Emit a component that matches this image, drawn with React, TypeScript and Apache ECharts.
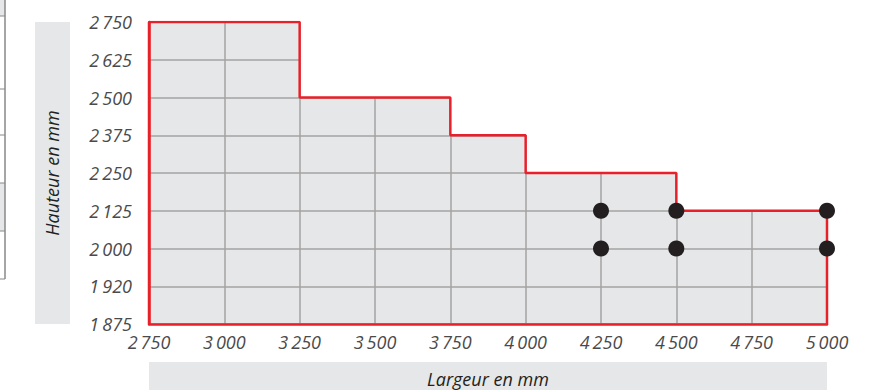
import React, { useEffect, useRef } from "react";
import * as echarts from "echarts";

const yTickLabels = [1875, 1920, 2000, 2125, 2250, 2375, 2500, 2625, 2750];
const xTicks = [2750, 3000, 3250, 3500, 3750, 4000, 4250, 4500, 4750, 5000];
const stepWidths = [2750, 3250, 3750, 4000, 4500, 5000];
const stepHeights = [2750, 2500, 2375, 2250, 2125];
const dotWidths = [4250, 4250, 4500, 4500, 5000, 5000];
const dotHeights = [2125, 2000, 2125, 2000, 2125, 2000];

const fmt = (v: number) => {
  const s = String(v);
  return s.length > 3 ? s.slice(0, s.length - 3) + "\u2009" + s.slice(-3) : s;
};
const yIdx = (h: number) => yTickLabels.indexOf(h);

export default function App() {
  const ref = useRef<HTMLDivElement>(null);
  useEffect(() => {
    if (!ref.current) return;
    const chart = echarts.init(ref.current, undefined, { renderer: "svg" });
    const outline: number[][] = [[stepWidths[0], 0]];
    stepHeights.forEach((h, i) => outline.push([stepWidths[i], yIdx(h)]));
    outline.push([stepWidths[stepWidths.length - 1], yIdx(stepHeights[stepHeights.length - 1])]);
    outline.push([stepWidths[stepWidths.length - 1], 0]);
    const dots = dotWidths.map((w, i) => [w, yIdx(dotHeights[i])]);
    const labelFont = {
      fontFamily: "Open Sans",
      fontStyle: "italic" as const,
      fontSize: 18,
      color: "#4a4a4a",
    };
    chart.setOption({
      animation: false,
      grid: {
        left: 149,
        right: 44,
        top: 22,
        bottom: 66,
        show: true,
        backgroundColor: "#e6e7e8",
        borderWidth: 0,
      },
      xAxis: {
        type: "value",
        min: xTicks[0],
        max: xTicks[xTicks.length - 1],
        interval: 250,
        axisLine: { show: true, onZero: false, lineStyle: { color: "#e8202a", width: 2.5 } },
        axisTick: { show: false },
        splitLine: { show: true, showMaxLine: false, lineStyle: { color: "#a3a3a3", width: 1.5 } },
        axisLabel: { ...labelFont, margin: 9, formatter: (v: number) => fmt(v) },
      },
      yAxis: {
        type: "value",
        min: 0,
        max: 8,
        interval: 1,
        axisLine: { show: true, lineStyle: { color: "#e8202a", width: 2.5 } },
        axisTick: { show: false },
        splitLine: { show: true, showMaxLine: false, lineStyle: { color: "#a3a3a3", width: 1.5 } },
        axisLabel: {
          ...labelFont,
          margin: 17,
          formatter: (v: number) => fmt(yTickLabels[v]),
        },
      },
      graphic: [
        { type: "rect", shape: { x: 35, y: 22, width: 35, height: 302 }, style: { fill: "#e6e7e8" } },
        {
          type: "text",
          x: 52,
          y: 173,
          rotation: Math.PI / 2,
          style: {
            text: "Hauteur en mm",
            fontFamily: "Open Sans",
            fontStyle: "italic",
            fontSize: 18,
            fill: "#231f20",
            align: "center",
            verticalAlign: "middle",
          },
        },
        { type: "rect", shape: { x: 149, y: 362, width: 678, height: 30 }, style: { fill: "#e6e7e8" } },
        {
          type: "text",
          x: 488,
          y: 379,
          style: {
            text: "Largeur en mm",
            fontFamily: "Open Sans",
            fontStyle: "italic",
            fontSize: 18,
            fill: "#231f20",
            align: "center",
            verticalAlign: "middle",
          },
        },
        { type: "rect", shape: { x: 0, y: 0, width: 5, height: 16 }, style: { fill: "#e6e7e8" } },
        { type: "rect", shape: { x: 0, y: 183, width: 5, height: 48 }, style: { fill: "#e6e7e8" } },
        { type: "line", shape: { x1: 5, y1: 0, x2: 5, y2: 279 }, style: { stroke: "#888", lineWidth: 1.5 } },
        ...[16, 89, 135, 183, 231, 279].map((y) => ({
          type: "line",
          shape: { x1: 0, y1: y, x2: 5, y2: y },
          style: { stroke: "#888", lineWidth: 1 },
        })),
      ],
      series: [
        {
          type: "line",
          data: outline,
          step: "end",
          symbol: "none",
          z: 3,
          lineStyle: { color: "#e8202a", width: 2.5 },
          areaStyle: { color: "#ffffff", opacity: 1, origin: "end" },
        },
        {
          type: "scatter",
          data: dots,
          symbolSize: 16,
          z: 5,
          itemStyle: { color: "#231f20", opacity: 1 },
        },
      ],
    });
    return () => chart.dispose();
  }, []);
  return <div ref={ref} style={{ width: 871, height: 390, position: "absolute", left: 0, top: 0 }} />;
}
